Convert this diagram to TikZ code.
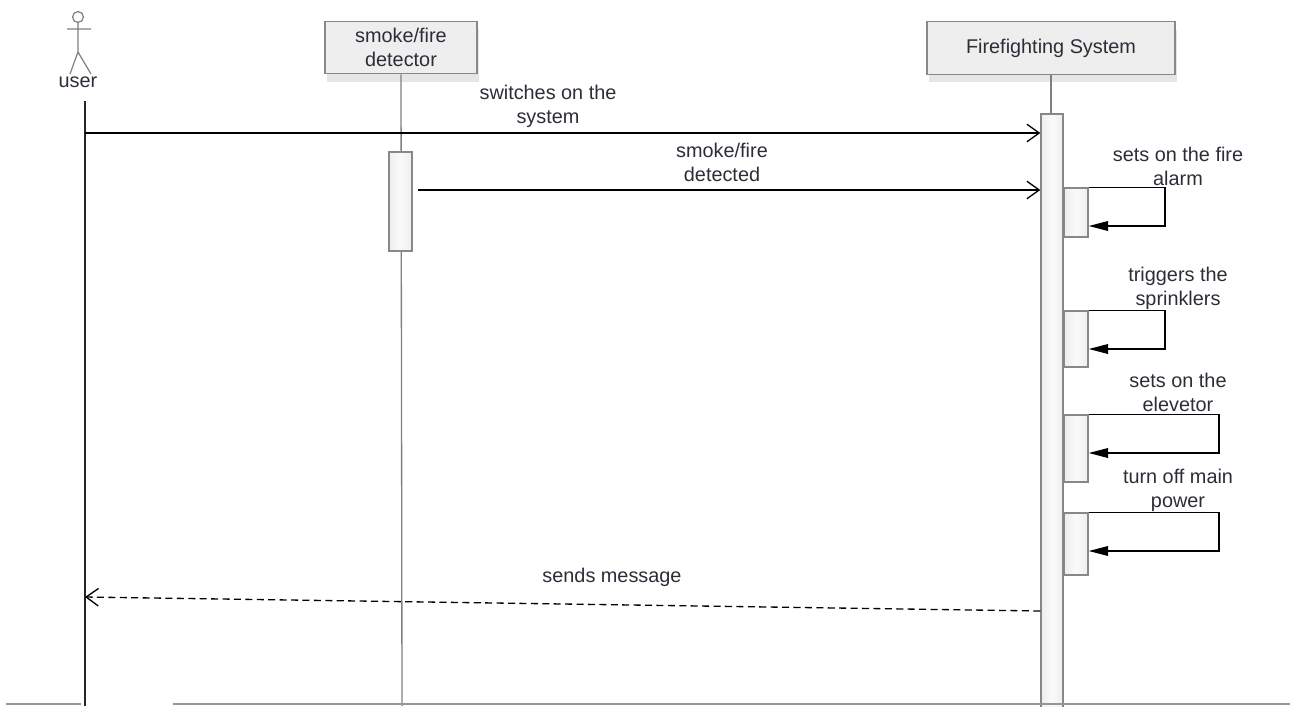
\documentclass[tikz,border=0pt]{standalone}
\usepackage{fontspec}
\setmainfont{Liberation Sans}
\usepackage{tikz}
\usetikzlibrary{arrows.meta,shapes,positioning,shadows}
\usepackage{xcolor}
\definecolor{sdline}{RGB}{128,128,128}
\definecolor{sdfill}{RGB}{238,238,238}
\definecolor{sdlight}{RGB}{250,250,250}
\definecolor{sdborder}{RGB}{136,136,136}
\definecolor{sdshadow}{RGB}{230,230,230}
\definecolor{sdtext}{RGB}{45,45,55}
\definecolor{sdbase}{RGB}{150,150,150}
\tikzstyle{object} = [rectangle, minimum height=1.05cm, text centered, align=center, draw=sdborder, line width=0.75pt, fill=sdfill, drop shadow={shadow xshift=1pt, shadow yshift=-4.5pt, fill=sdshadow, opacity=1}, font=\fontsize{11.3pt}{13.6pt}\selectfont, text=sdtext, inner sep=0pt]
\tikzstyle{activation} = [rectangle, draw=sdborder, line width=0.8pt, left color=sdfill, right color=sdfill, middle color=sdlight, inner sep=0pt]
\tikzstyle{lifeline} = [color=sdline, line width=0.75pt]
\tikzstyle{msg} = [line width=0.75pt, -{Straight Barb[length=7pt,width=10pt]}]
\tikzstyle{selfmsg} = [line width=0.75pt, -{Triangle[length=11pt,width=5.5pt]}]
\tikzstyle{reply} = [msg, dash pattern=on 4pt off 2.5pt]
\tikzstyle{msglabel} = [font=\fontsize{11.3pt}{13.6pt}\selectfont, align=center, text=sdtext, inner sep=0pt]

\begin{document}
\begin{tikzpicture}[x=0.02cm, y=-0.02cm]
\useasboundingbox (0,0) rectangle (1290,706);

% Actor
\draw[sdline, line width=0.7pt] (78,17) circle[radius=3.1pt];
\draw[sdline, line width=0.7pt] (78,22) -- (78,52) (67,29) -- (91,29) (70,74) -- (78,52) -- (91,74);
\node[msglabel] (user) at (78,82) {user};

% Objects
\node[object, minimum width=3.04cm] (detector) at (401,47.5) {smoke/fire\\detector};
\node[object, minimum width=4.96cm] (system) at (1051,48) {Firefighting System};

% Lifelines
\draw[line width=0.8pt, color=black!85] (85,101) -- (85,706);
\draw[lifeline] (detector.south) -- (402,706);
\draw[lifeline] (system.south) -- (1051,114);

% Activations
\node[activation, minimum width=0.46cm, minimum height=1.98cm] (dbar) at (400.5,201.5) {};
\node[activation, minimum width=0.44cm, minimum height=11.96cm] (fsbar) at (1052,413) {};
\node[activation, minimum width=0.48cm, minimum height=0.98cm] (a1) at (1076,212.5) {};
\node[activation, minimum width=0.48cm, minimum height=1.12cm] (a2) at (1076,339) {};
\node[activation, minimum width=0.48cm, minimum height=1.34cm] (a3) at (1076,448.5) {};
\node[activation, minimum width=0.48cm, minimum height=1.24cm] (a4) at (1076,544) {};

% Calls
\coordinate (m1) at (85,133);
\draw[msg] (m1) -- (m1 -| fsbar.west);
\node[msglabel] (l1) at (548,106) {switches on the\\system};
\coordinate (m2) at (418,190);
\draw[msg] (m2) -- (m2 -| fsbar.west);
\node[msglabel] (l2) at (722,162) {smoke/fire\\detected};

% Self calls
\coordinate (r1) at (1165,226);
\coordinate (r2) at (1165,349);
\coordinate (r3) at (1219,453);
\coordinate (r4) at (1219,551);
\draw[selfmsg] (a1.north east) -| (r1) -- (r1 -| a1.east);
\draw[selfmsg] (a2.north east) -| (r2) -- (r2 -| a2.east);
\draw[selfmsg] (a3.north east) -| (r3) -- (r3 -| a3.east);
\draw[selfmsg] (a4.north east) -| (r4) -- (r4 -| a4.east);
\node[msglabel] (l3) at (1178,166) {sets on the fire\\alarm};
\node[msglabel] (l4) at (1178,288) {triggers the\\sprinklers};
\node[msglabel] (l5) at (1178,392) {sets on the\\elevetor};
\node[msglabel] (l6) at (1178,490) {turn off main\\power};

% Reply
\coordinate (ret) at (fsbar.west |- 0,611);
\coordinate (uret) at (85,597);
\draw[reply] (ret) -- (uret);
\node[msglabel] (l7) at (612,577) {sends message};

% Base line
\draw[sdbase, line width=0.85pt] (6,704) -- (81,704) (173,704) -- (1290,704);
\end{tikzpicture}
\end{document}
